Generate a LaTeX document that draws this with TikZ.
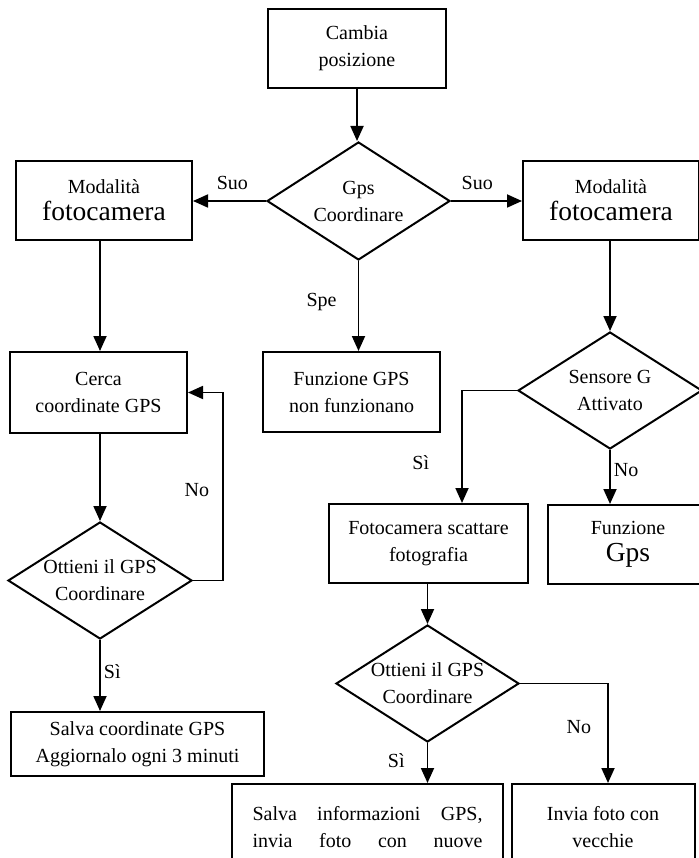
\documentclass[tikz,border=0pt]{standalone}
\usepackage{fontspec}
\setmainfont{Liberation Serif}
\usepackage{tikz}
\usetikzlibrary{shapes.geometric,arrows.meta}
\newcommand{\grande}{\fontsize{27.5}{30}\selectfont}

\begin{document}
\begin{tikzpicture}[x=1pt,y=-1pt,
  font=\fontsize{20}{27}\selectfont,
  box/.style={draw,line width=2pt,rectangle,align=center,inner sep=0pt},
  dec/.style={draw,line width=2pt,diamond,inner sep=0pt},
  dtxt/.style={align=center,inner sep=0pt},
  arr/.style={line width=1.8pt,-{Triangle[length=15pt,width=13pt]}},
  lbl/.style={inner sep=3pt}]
\useasboundingbox (0,0) rectangle (698,858);

% riga in alto
\node[box,minimum width=178pt,minimum height=79pt] (cambia) at (357,48.5) {Cambia\\posizione};
\node[dec,minimum width=183pt,minimum height=118pt] (gps) at (358.5,201) {};
\node[dtxt] (gpst) at (gps) {Gps\\Coordinare};
\node[box,minimum width=176pt,minimum height=79pt] (modL) at (104,200.5) {Modalità\\{\grande fotocamera}};
\node[box,minimum width=176pt,minimum height=79pt] (modR) at (611,200.5) {Modalità\\{\grande fotocamera}};

% ramo sinistro
\node[box,minimum width=177pt,minimum height=81pt] (cerca) at (98.5,392.5) {Cerca\\coordinate GPS};
\node[dec,minimum width=184pt,minimum height=117pt] (ottL) at (100,580.5) {};
\node[dtxt] (ottLt) at (ottL) {Ottieni il GPS\\Coordinare};
\node[box,minimum width=253pt,minimum height=64pt] (salvaL) at (137.5,744) {Salva coordinate GPS\\Aggiornalo ogni 3 minuti};

% centro
\node[box,minimum width=177pt,minimum height=80pt] (funz) at (351.5,392) {Funzione GPS\\non funzionano};

% ramo destro
\node[dec,minimum width=184pt,minimum height=117pt] (sens) at (610,390.5) {};
\node[dtxt] (senst) at (sens) {Sensore G\\Attivato};
\node[box,minimum width=199pt,minimum height=79pt] (foto) at (428.5,543.5) {Fotocamera scattare\\fotografia};
\node[box,minimum width=160pt,minimum height=79pt] (gpsfun) at (628,544.5) {Funzione\\{\grande Gps}};
\node[dec,minimum width=183pt,minimum height=117pt] (ottR) at (427.5,683.5) {};
\node[dtxt] (ottRt) at (ottR) {Ottieni il GPS\\Coordinare};
\node[box,minimum width=271pt,minimum height=86pt,text width=230pt] (salvaR) at (367.5,827)
  {\makebox[230pt]{Salva\hfill informazioni\hfill GPS,}\\\makebox[230pt]{invia\hfill foto\hfill con\hfill nuove}};
\node[box,minimum width=183pt,minimum height=86pt] (invia) at (603,827) {Invia foto con\\vecchie};

% frecce
\draw[arr] (cambia.south) -- (cambia.south |- gps.north);
\draw[arr] (gps.west) -- node[lbl,above=7pt,pos=.46]{Suo} (gps.west -| modL.east);
\draw[arr] (gps.east) -- node[lbl,above=7pt,pos=.37]{Suo} (gps.east -| modR.west);
\draw[arr] (gps.south) -- node[lbl,left=18pt,pos=.46]{Spe} (gps.south |- funz.north);
\draw[arr] (modL.south -| ottL.north) -- (cerca.north -| ottL.north);
\draw[arr] (cerca.south -| ottL.north) -- (ottL.north);
\draw[arr] (ottL.east) -- ++(30,0) |- node[lbl,left=10pt,pos=.24]{No} (cerca.east);
\draw[arr] (ottL.south) -- node[lbl,right=0pt,pos=.45]{Sì} (ottL.south |- salvaL.north);
\draw[arr] (modR.south -| sens.north) -- (sens.north);
\draw[arr] (sens.west) -| node[lbl,left=29pt,pos=.82]{Sì} ([xshift=33.5pt]foto.north);
\draw[arr] (sens.south) -- node[lbl,right=0pt,pos=.38]{No} (sens.south |- gpsfun.north);
\draw[arr] (foto.south -| ottR.north) -- (ottR.north);
\draw[arr] (ottR.south) -- node[lbl,left=19pt,pos=.43]{Sì} (ottR.south |- salvaR.north);
\draw[arr] (ottR.east) -| node[lbl,left=13pt,pos=.72]{No} ([xshift=5pt]invia.north);
\end{tikzpicture}
\end{document}
